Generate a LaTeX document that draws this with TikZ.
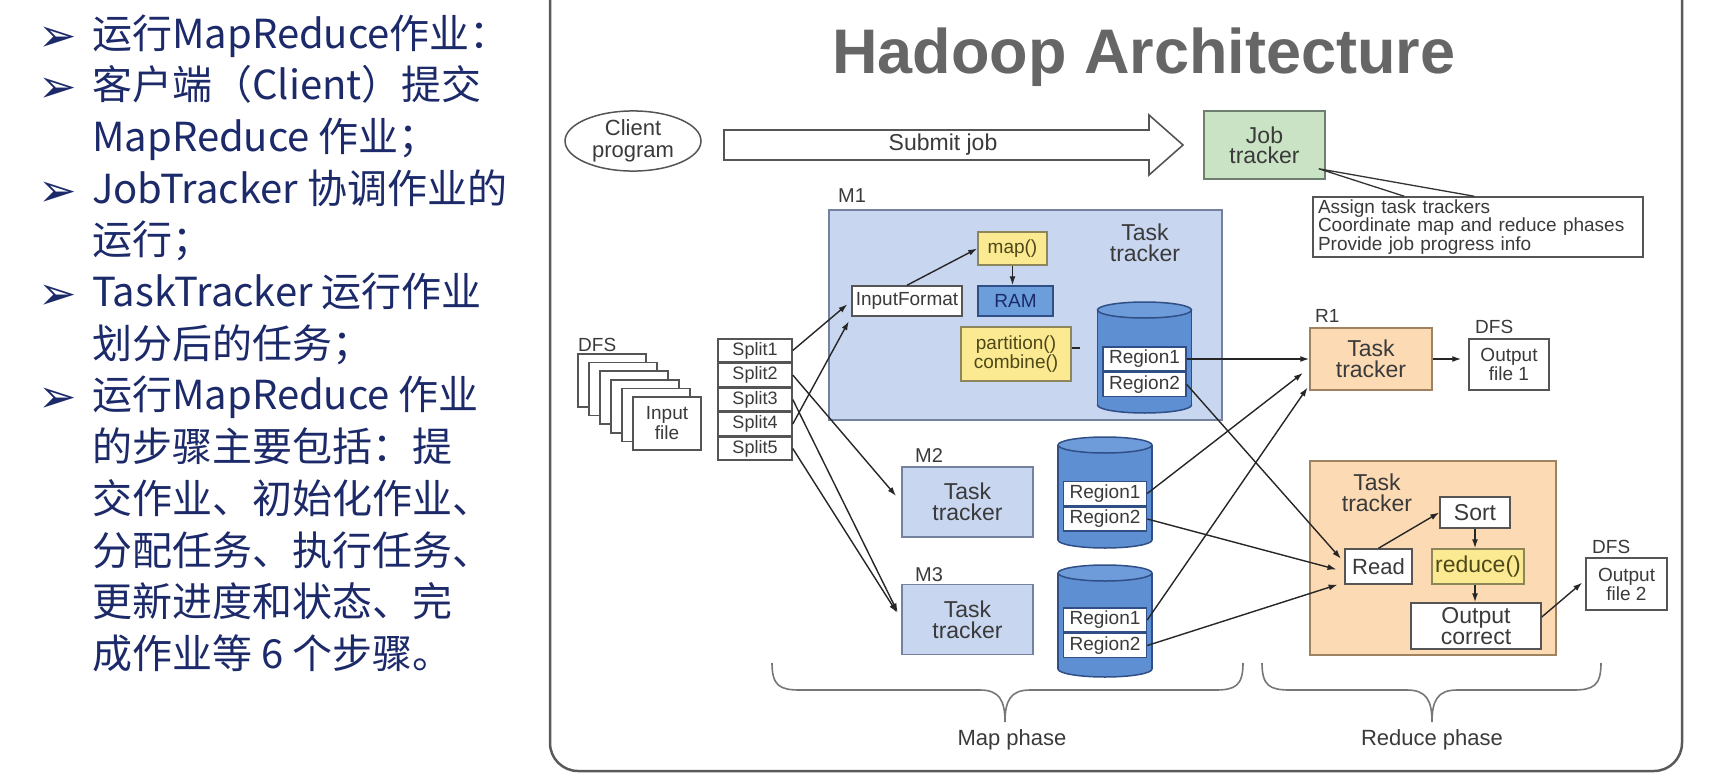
\documentclass[tikz,border=0pt]{standalone}
\usepackage{fontspec}
\setmainfont{Liberation Sans}
\newfontfamily\cjkfont{Noto Sans CJK SC}
\newfontfamily\symfont{DejaVu Sans}
\usepackage{tikz}
\usetikzlibrary{
    arrows.meta,
    shapes.geometric,
    calc,
    positioning
}

\definecolor{navy}{HTML}{1C2A6A}
\definecolor{titlegray}{HTML}{666666}
\definecolor{txtgray}{HTML}{3A3A3A}
\definecolor{frameline}{HTML}{5A5A5A}
\definecolor{wline}{HTML}{555555}
\definecolor{trackblue}{HTML}{C8D6EF}
\definecolor{trackline}{HTML}{7482A0}
\definecolor{diskblue}{HTML}{5E8FD2}
\definecolor{diskend}{HTML}{6E9CDA}
\definecolor{diskline}{HTML}{2F4F86}
\definecolor{ramblue}{HTML}{6C9EDB}
\definecolor{fnyellow}{HTML}{FBEA92}
\definecolor{fnline}{HTML}{8C865A}
\definecolor{fntext}{HTML}{4E4818}
\definecolor{jobgreen}{HTML}{C9E3C4}
\definecolor{jobline}{HTML}{6F7F6F}
\definecolor{peach}{HTML}{FCDAB4}
\definecolor{peachline}{HTML}{9E8262}
\definecolor{bracegray}{HTML}{777777}

\tikzset{
    fbox/.style={draw=wline, line width=1.5pt, inner sep=0pt, align=center, text=txtgray},
    boxtext/.style={font=\fontsize{23}{21}\selectfont, text=txtgray, align=center, inner sep=0pt},
    lbl/.style={font=\fontsize{19}{19}\selectfont, text=txtgray, anchor=base west, inner sep=0pt},
    tracker/.style={fbox, draw=trackline, fill=trackblue, font=\fontsize{23}{21}\selectfont},
    reducer/.style={fbox, draw=peachline, fill=peach, font=\fontsize{23}{21}\selectfont},
    jobbox/.style={fbox, draw=jobline, fill=jobgreen, font=\fontsize{23}{20}\selectfont},
    fnbox/.style={fbox, draw=fnline, fill=fnyellow, text=fntext, font=\fontsize{19}{19}\selectfont},
    wbox/.style={fbox, fill=white, font=\fontsize{19}{19}\selectfont},
    splitbox/.style={wbox, minimum width=74pt, minimum height=23pt, font=\fontsize{18}{18}\selectfont},
    region/.style={wbox, draw=diskline, minimum width=83pt, minimum height=24pt},
    filepage/.style={fbox, fill=white, minimum width=68pt, minimum height=53pt},
    diskbody/.style={fill=diskblue, draw=diskline, line width=1.5pt},
    disktop/.style={fill=diskend, draw=diskline, line width=1.5pt},
    conn/.style={->, line width=1.4pt, draw=black!85},
    submitarrow/.style={draw=wline, line width=1.6pt, fill=white},
    jobnote/.style={line width=1.3pt, draw=black!80},
    phasebrace/.style={draw=bracegray, line width=1.6pt},
    phaselabel/.style={font=\fontsize{22}{22}\selectfont, text=txtgray, inner sep=0pt},
    slidetitle/.style={font=\bfseries\fontsize{63}{63}\selectfont, text=titlegray, anchor=base, inner sep=0pt},
    slideframe/.style={draw=frameline, line width=2.5pt, rounded corners=28pt},
    introline/.style={anchor=base west, inner sep=0pt, text=navy, font=\cjkfont\fontsize{40}{40}\selectfont},
    bullet/.style={anchor=base west, inner sep=0pt, text=navy, font=\symfont\fontsize{46}{46}\selectfont}
}

\begin{document}
\begin{tikzpicture}[x=1pt, y=-1pt, >={Latex[length=9pt,width=6pt]}]
    \useasboundingbox (0,0) rectangle (1735,779);

    % slide text on the left
    \foreach \n/\txt in {1/运行MapReduce作业：, 2/客户端（Client）提交, 3/MapReduce 作业；,
        4/JobTracker 协调作业的, 5/运行；, 6/TaskTracker 运行作业, 7/划分后的任务；,
        8/运行MapReduce 作业, 9/的步骤主要包括：提, 10/交作业、初始化作业、,
        11/分配任务、执行任务、, 12/更新进度和状态、完, 13/成作业等 6 个步骤。}
        \node[introline] (line\n) at (92, {48+(\n-1)*51.7}) {\txt};
    \foreach \n in {1,2,4,6,8}
        \node[bullet] (bul\n) at (38, {51+(\n-1)*51.7}) {➢};

    % frame and title
    \draw[slideframe] (550,-40) rectangle (1682,771);
    \node[slidetitle] (title) at (1144,73) {Hadoop Architecture};

    % client and job tracker
    \node[ellipse, draw=wline, line width=1.5pt, inner sep=0pt, minimum width=136pt, minimum height=58pt,
        font=\fontsize{22}{22}\selectfont, text=txtgray, align=center] (client) at (633,141) {Client\\program};
    \draw[submitarrow] (724,130) -- (1149,130) -- (1149,115) -- (1183,145) -- (1149,175) -- (1149,160) -- (724,160) -- cycle;
    \node[boxtext] (submit) at (943,145) {Submit job};
    \node[jobbox, minimum width=121pt, minimum height=68pt] (jobtracker) at (1264.5,145) {Job\\tracker};
    \node[wbox, minimum width=330pt, minimum height=60pt, text width=320pt, align=left, inner xsep=5pt,
        font=\fontsize{19}{18.5}\selectfont] (info) at (1478,227)
        {Assign task trackers\\Coordinate map and reduce phases\\Provide job progress info};
    \draw[jobnote] ($(info.north west)+(92,0)$) -- ($(jobtracker.south east)+(-7,-11)$) -- ($(info.north west)+(162,0)$);

    % input file and splits
    \node[lbl] (dfsin) at (578,351) {DFS};
    \foreach \i in {0,...,5}
        \node[filepage] (page\i) at ({612+11*\i},{380.5+8.6*\i}) {};
    \node[boxtext, font=\fontsize{19}{20}\selectfont] (infile) at (page5) {Input\\file};
    \node[splitbox] (split1) at (755,350.5) {Split1};
    \foreach \i [remember=\i as \j (initially 1)] in {2,...,5}
        \node[splitbox, below=0pt of split\j] (split\i) {Split\i};

    % M1
    \node[tracker, minimum width=393pt, minimum height=210pt] (m1) at (1025.5,315) {};
    \node[lbl, font=\fontsize{20}{20}\selectfont] (m1lbl) at (838,202) {M1};
    \node[boxtext] (m1txt) at (1145,243) {Task\\tracker};
    \node[fnbox, minimum width=69pt, minimum height=33pt] (mapfn) at (1012.5,248.5) {map()};
    \node[fbox, fill=ramblue, draw=diskline, text=navy, minimum width=75pt, minimum height=30pt,
        font=\fontsize{19}{19}\selectfont] (ram) at (1015.5,301) {RAM};
    \node[wbox, minimum width=110pt, minimum height=30pt] (inputformat) at (907,301) {InputFormat};
    \node[fnbox, minimum width=110pt, minimum height=54pt] (partition) at (1016,354) {partition()\\combine()};

    % disks of the three map trackers
    \foreach \name/\cx/\ct/\cb in {disk1/1144.5/302/413, disk2/1105/437/548, disk3/1105/565/677} {
        \coordinate (\name) at (\cx, {(\ct+\cb)/2});
        \filldraw[diskbody] (\cx,\cb-8) ellipse (47pt and 8pt);
        \fill[diskblue] (\cx-47,\ct+8) rectangle (\cx+47,\cb-8);
        \draw[diskbody] (\cx-47,\ct+8) -- (\cx-47,\cb-8) (\cx+47,\ct+8) -- (\cx+47,\cb-8);
        \filldraw[disktop] (\cx,\ct+8) ellipse (47pt and 8pt);
    }
    \node[region] (reg11) at (1144.5,359) {Region1};
    \node[region, below=0pt of reg11] (reg12) {Region2};

    % M2 and M3
    \node[lbl, font=\fontsize{20}{20}\selectfont] (m2lbl) at (915,462) {M2};
    \node[tracker, minimum width=131pt, minimum height=70pt] (m2) at (967.5,502) {Task\\tracker};
    \node[region] (reg21) at (1105,493.5) {Region1};
    \node[region, below=0pt of reg21] (reg22) {Region2};

    \node[lbl, font=\fontsize{20}{20}\selectfont] (m3lbl) at (915,581) {M3};
    \node[tracker, minimum width=131pt, minimum height=70pt] (m3) at (967.5,619.5) {Task\\tracker};
    \node[region] (reg31) at (1105,620) {Region1};
    \node[region, below=0pt of reg31] (reg32) {Region2};

    % R1
    \node[lbl] (r1lbl) at (1315,322) {R1};
    \node[reducer, minimum width=122pt, minimum height=62pt] (r1) at (1371,359) {Task\\tracker};
    \node[lbl] (dfsout1) at (1475,333) {DFS};
    \node[wbox, minimum width=80pt, minimum height=51pt] (out1) at (1509,364.5) {Output\\file 1};

    % R2
    \node[reducer, minimum width=246pt, minimum height=194pt] (r2) at (1433,558) {};
    \node[boxtext] (r2txt) at (1377,492.5) {Task\\tracker};
    \node[wbox, minimum width=70pt, minimum height=31pt, font=\fontsize{23}{23}\selectfont] (sort) at (1475,512.5) {Sort};
    \node[wbox, minimum width=67pt, minimum height=35pt, font=\fontsize{22}{22}\selectfont] (read) at (1378.5,566.5) {Read};
    \node[fnbox, minimum width=92pt, minimum height=35pt, font=\fontsize{23}{23}\selectfont] (reducefn) at (1478,566.5) {reduce()};
    \node[wbox, minimum width=130pt, minimum height=46pt, font=\fontsize{23}{21}\selectfont] (outcorrect) at (1476,626) {Output\\correct};
    \node[lbl] (dfsout2) at (1592,553) {DFS};
    \node[wbox, minimum width=81pt, minimum height=52pt] (out2) at (1626.5,584) {Output\\file 2};

    % connectors
    \draw[conn, shorten >=5pt] (split1.east) -- (inputformat.west);
    \draw[conn, shorten >=5pt] (split4.east) -- (inputformat.south west);
    \draw[conn, shorten >=8pt] (split2.east) -- (m2.west);
    \draw[conn, shorten >=8pt] (split3.east) -- (m3.west);
    \draw[conn, shorten >=8pt] (split5.east) -- (m3.west);
    \draw[conn] (inputformat.north) -- (mapfn.west);
    \draw[conn] (mapfn.south) -- (mapfn.south |- ram.north);
    \draw[conn, -] ($(partition.east)+(0,-6)$) -- ++(8,0);

    \draw[conn] (reg11.east) -- (r1.west);
    \draw[conn, shorten >=8pt] (reg21.east) -- ($(r1.west)+(0,9)$);
    \draw[conn, shorten >=3pt] (reg31.east) -- ($(r1.west)+(0,26)$);
    \draw[conn, shorten >=5pt] (reg12.east) -- ($(read.west)+(0,-4)$);
    \draw[conn, shorten >=8pt] (reg22.east) -- ($(read.west)+(0,5)$);
    \draw[conn, shorten >=7pt] (reg32.east) -- ($(read.west)+(0,16)$);
    \draw[conn, shorten >=7pt] (r1.east) -- (r1.east -| out1.west);

    \draw[conn] (read.north) -- (sort.west);
    \draw[conn] (sort.south) -- (sort.south |- reducefn.north);
    \draw[conn] (sort.south |- reducefn.south) -- (sort.south |- outcorrect.north);
    \draw[conn, shorten >=4pt] ($(outcorrect.east)+(0,-9)$) -- ($(out2.west)+(0,-4)$);

    % phase braces
    \foreach \xa/\xm/\xb in {772/1005/1243, 1262/1432/1601}
        \draw[phasebrace] (\xa,663) .. controls (\xa,686) and (\xa+8,690) .. (\xa+28,690)
            -- (\xm-25,690) .. controls (\xm-6,690) and (\xm,700) .. (\xm,722)
            .. controls (\xm,700) and (\xm+6,690) .. (\xm+25,690)
            -- (\xb-28,690) .. controls (\xb-8,690) and (\xb,686) .. (\xb,663);
    \node[phaselabel] (mapphase) at (1012,740) {Map phase};
    \node[phaselabel] (redphase) at (1432,740) {Reduce phase};
\end{tikzpicture}
\end{document}
